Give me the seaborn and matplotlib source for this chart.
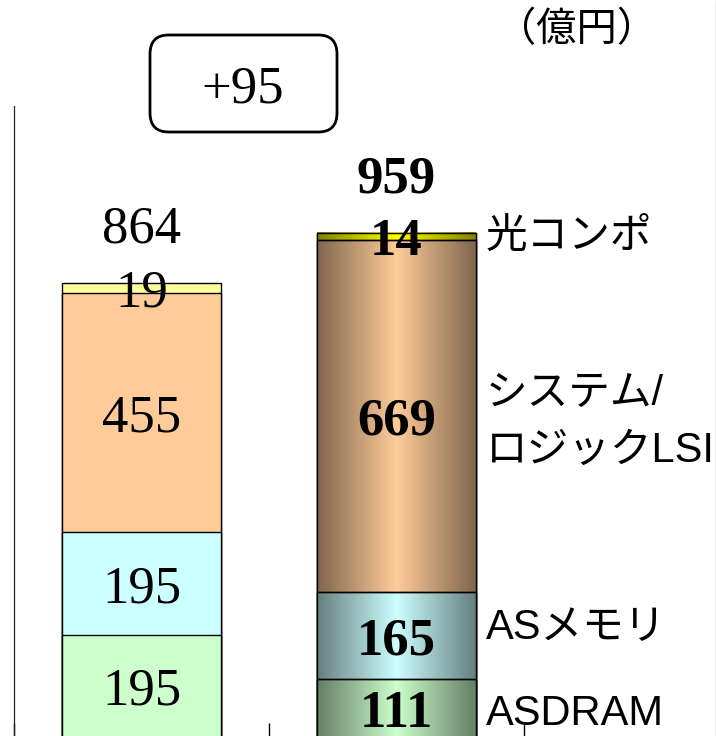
import numpy as np
import pandas as pd
import seaborn as sns
import matplotlib.pyplot as plt
from matplotlib.patches import FancyBboxPatch, Rectangle
from matplotlib.lines import Line2D
from matplotlib.colors import to_rgb

# data (bottom to top)
periods = ['前期', '当期']
segments = ['ASDRAM', 'ASメモリ', 'システム/\nロジックLSI', '光コンポ']
prev_values = [195, 195, 455, 19]
curr_values = [111, 165, 669, 14]
flat_colors = ['#CCFFCC', '#CCFFFF', '#FFCC99', '#FFFF99']
shade_colors = ['#CCFFCC', '#CCFFFF', '#FFCC99', '#FFFF00']
unit_label = '（億円）'

df = pd.DataFrame({
    'period': np.repeat(periods, len(segments)),
    'segment': segments * len(periods),
    'value': prev_values + curr_values,
})
df['top'] = df.groupby('period', sort=False)['value'].cumsum()
df['bottom'] = df['top'] - df['value']
totals = df.groupby('period', sort=False)['value'].sum().reindex(periods)

sns.set_theme(style='white')
plt.rcParams['font.family'] = ['Liberation Serif', 'Noto Sans CJK JP']
plt.rcParams['text.color'] = 'black'
JP = ['Liberation Sans', 'Noto Sans CJK JP']

fig = plt.figure(figsize=(7.16, 7.36), dpi=100)
ax = fig.add_axes([14 / 716, -1.5 / 736, 510 / 716, 631.5 / 736])

BAR_W = 0.62

# stacked bars: draw cumulative heights from the top layer down
for i in reversed(range(len(segments))):
    layer = df[df['segment'] == segments[i]]
    sns.barplot(data=layer, x='period', y='top', order=periods, color=flat_colors[i],
                saturation=1, width=BAR_W, edgecolor='black', linewidth=1.0, ax=ax)

# cylinder-like shading on the current period bar
t = np.linspace(-1, 1, 256)
shade = 1 - 0.5 * np.abs(t)
cur = df[df['period'] == periods[1]]
for i, (_, r) in enumerate(cur.iterrows()):
    rgb = np.array(to_rgb(shade_colors[i]))
    img = (shade[:, None] * rgb[None, :])[None, :, :]
    ax.imshow(img, extent=(1 - BAR_W / 2, 1 + BAR_W / 2, r['bottom'], r['top']),
              aspect='auto', interpolation='bilinear', zorder=2.5)
    ax.add_patch(Rectangle((1 - BAR_W / 2, r['bottom']), BAR_W, r['value'], fill=False,
                           edgecolor='black', linewidth=1.0, zorder=2.6))

ax.set_xlim(-0.5, 1.5)
ax.set_ylim(0, 1200)

# value labels
for j, period in enumerate(periods):
    weight = 'normal' if j == 0 else 'bold'
    sub = df[df['period'] == period]
    for _, r in sub.iterrows():
        ax.text(j, (r['bottom'] + r['top']) / 2, f"{r['value']}", ha='center',
                va='center_baseline', fontsize=38, fontweight=weight, zorder=5)
    ax.text(j, totals[period] + 112, f'{totals[period]}', ha='center',
            va='center_baseline', fontsize=38, fontweight=weight, clip_on=False)

# segment names to the right of the current bar (small nudges in px)
nudge = [-6, 8, -6, 0]
for k, (_, r) in enumerate(cur.iterrows()):
    ax.annotate(r['segment'], xy=(1 + BAR_W / 2, (r['bottom'] + r['top']) / 2),
                xytext=(10, nudge[k]), textcoords='offset pixels',
                ha='left', va='center', fontsize=30, family=JP, linespacing=1.55,
                annotation_clip=False)

# difference box
diff = totals[periods[1]] - totals[periods[0]]
fig.add_artist(FancyBboxPatch((150 / 716, 1 - 132 / 736), 187 / 716, 97 / 736,
                              boxstyle='round,pad=0,rounding_size=0.026',
                              transform=fig.transFigure, facecolor='white',
                              edgecolor='black', linewidth=2))
fig.text(243 / 716, 1 - 84 / 736, f'{diff:+d}', ha='center', va='center_baseline',
         fontsize=38)

fig.text(577 / 716, 1 - 30 / 736, unit_label, ha='center', va='center',
         fontsize=29, family=JP)

# axes styling
ax.set_xlabel('')
ax.set_ylabel('')
ax.set_yticks([])
ax.set_xticks([0, 1])
ax.set_xticklabels([])
ax.set_xticks([-0.5, 0.5, 1.5], minor=True)
ax.tick_params(axis='x', which='major', length=0)
ax.tick_params(axis='x', which='minor', direction='in', length=11, width=1,
               color='black', bottom=True)
for side in ['top', 'right']:
    ax.spines[side].set_visible(False)
ax.spines['left'].set_color('#222222')
ax.spines['left'].set_linewidth(0.9)
ax.spines['bottom'].set_color('black')

fig.add_artist(Line2D([715.5 / 716] * 2, [0, 1], color='#A8A8A8', linewidth=1,
                      transform=fig.transFigure))

plt.savefig('out.png', dpi=100)
